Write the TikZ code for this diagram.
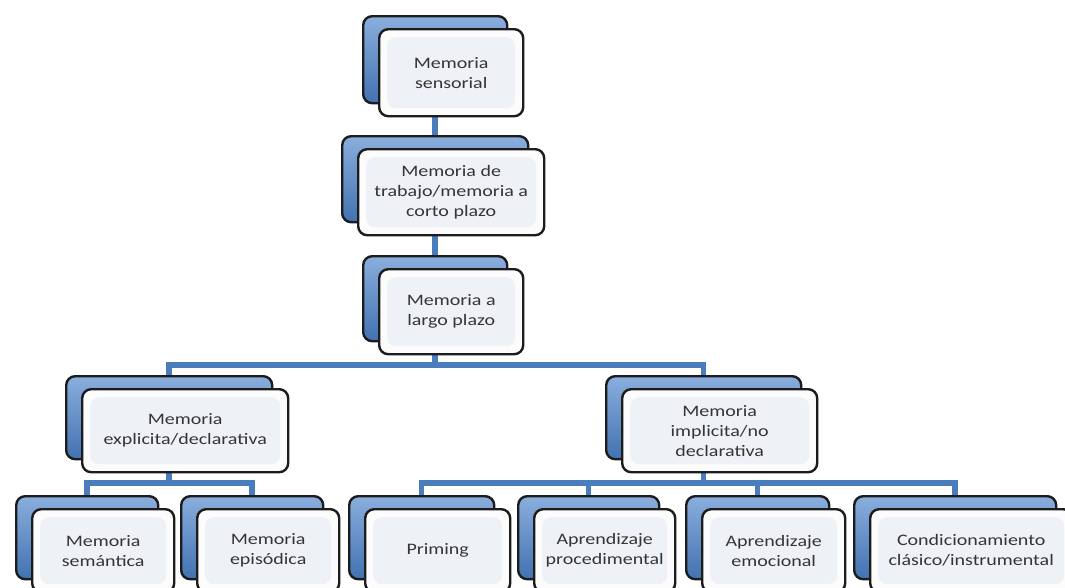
\documentclass[tikz,border=0pt]{standalone}
\usepackage{fontspec}
\setmainfont{Carlito}[FakeStretch=1.25]
\pgfdeclarelayer{bg}
\pgfsetlayers{bg,main}
\definecolor{edge}{HTML}{1C1C1C}
\definecolor{blueTop}{HTML}{8AAEDD}
\definecolor{blueBot}{HTML}{4272B1}
\definecolor{wire}{HTML}{4A7DBB}
\definecolor{paper}{HTML}{FCFCFD}
\definecolor{inner}{HTML}{EEF1F5}
\definecolor{ink}{HTML}{353535}
\tikzset{
  backbox/.style={draw=edge, line width=2.4pt, rounded corners=9pt,
    top color=blueTop, bottom color=blueBot, anchor=north west, inner sep=0pt},
  frontbox/.style={draw=edge, line width=2.4pt, rounded corners=9pt,
    fill=paper, anchor=north west, inner sep=0pt, align=center, text=ink,
    font=\fontsize{16}{20}\selectfont,
    path picture={\fill[inner]
      ([shift={(8pt,-8pt)}]path picture bounding box.north west) rectangle
      ([shift={(-8pt,8pt)}]path picture bounding box.south east);}},
  link/.style={draw=wire, line width=5.5pt}
}
% a card: blue card behind, white card in front, shifted right and down
\newcommand\memcard[6]{%
  \node[backbox, minimum width=#4pt, minimum height=#5pt] (#1b) at (#2,#3) {};
  \node[frontbox, minimum width=#4pt, minimum height=#5pt] (#1) at ({#2+16},{#3+13}) {#6};
}
\begin{document}
\begin{tikzpicture}[x=1pt,y=-1pt]
\useasboundingbox (0,0) rectangle (1065,587);
\clip (0,0) rectangle (1065,587);

\memcard{sens}{362}{15}{144}{87}{Memoria\\sensorial}
\memcard{trab}{341}{135}{186}{86}{Memoria de\\trabajo/memoria a\\corto plazo}
\memcard{largo}{362}{255}{144}{85}{Memoria a\\largo plazo}
\memcard{expl}{65}{375}{206}{83}{Memoria\\explicita/declarativa}
\memcard{impl}{605}{375}{195}{83}{Memoria\\implicita/no\\declarativa}
\memcard{sem}{15}{495}{142}{83}{Memoria\\semántica}
\memcard{epi}{180}{495}{142}{83}{Memoria\\episódica}
\memcard{prim}{348}{495}{145}{83}{Priming}
\memcard{proc}{517}{495}{141}{83}{Aprendizaje\\procedimental}
\memcard{emo}{685}{495}{143}{83}{Aprendizaje\\emocional}
\memcard{cond}{853}{495}{202}{83}{Condicionamiento\\clásico/instrumental}

\coordinate (busA) at (0,365);
\coordinate (busB) at (0,483);

\begin{pgfonlayer}{bg}
  \fill[white] (0,0) rectangle (1065,587);
  \draw[link] (sensb.south) -- (trabb.north);
  \draw[link] (trabb.south) -- (largob.north);
  \draw[link] (largob.south) -- (largob.south |- busA) -| (explb.north);
  \draw[link] (largob.south |- busA) -| (implb.north);
  \draw[link] (explb.south) -- (explb.south |- busB) -| (semb.north);
  \draw[link] (explb.south |- busB) -| (epib.north);
  \draw[link] (implb.south) -- (implb.south |- busB) -| (primb.north);
  \draw[link] (implb.south |- busB) -| (procb.north);
  \draw[link] (implb.south |- busB) -| (emob.north);
  \draw[link] (implb.south |- busB) -| (condb.north);
\end{pgfonlayer}
\end{tikzpicture}
\end{document}
